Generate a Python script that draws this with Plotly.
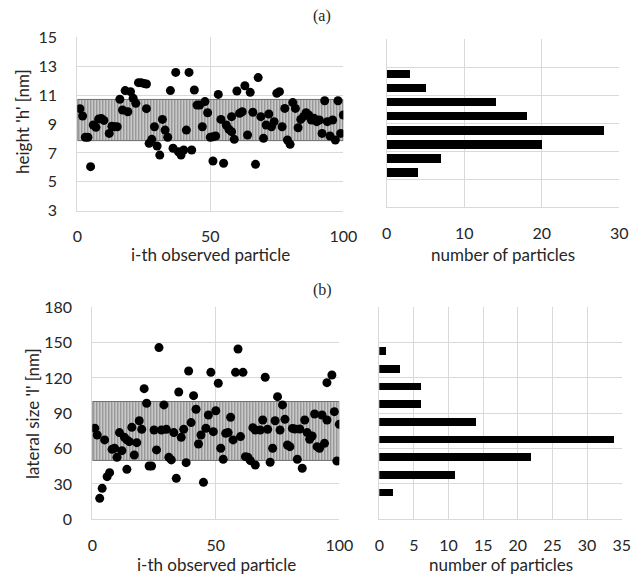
import plotly.graph_objects as go

# ---------------- data ----------------
# (a) height of each observed particle
h_index = [1,2,3,4,5,6,7,8,9,10,12,13,14,15,16,17,18,19,20,21,22,23,24,25,26,26,27,28,29,30,
           31,32,33,34,35,36,37,38,39,40,41,42,43,44,45,46,47,48,49,50,51,51,52,53,54,55,56,57,58,58,
           59,60,61,62,63,64,65,66,67,68,69,70,71,72,73,74,75,76,77,78,79,80,81,82,83,84,85,86,87,88,
           89,90,91,92,93,94,95,96,97,98,99,100]
h_values = [10.06,9.55,8.08,8.08,6.05,8.93,8.77,9.34,9.38,9.25,8.35,8.85,8.81,8.81,10.71,9.97,11.31,9.85,11.24,10.78,
            10.43,11.86,11.86,11.81,11.77,10.06,7.66,7.94,8.81,7.48,6.85,9.32,8.58,8.08,11.31,7.32,12.57,7.08,6.85,7.2,
            8.58,12.57,7.2,11.35,10.31,10.31,8.81,10.55,9.78,8.08,8.12,6.44,8.17,11.05,9.32,6.28,8.93,8.63,8.47,9.51,
            7.94,11.28,9.74,9.85,11.65,8.24,11.19,9.81,6.21,12.21,9.51,8.01,8.93,9.69,8.81,9.16,11.12,11.24,8.81,10.08,
            7.89,7.59,10.48,10.08,8.74,9.32,9.51,9.78,9.62,9.28,9.39,9.16,9.28,8.35,10.61,9.16,8.17,9.28,7.89,10.61,
            8.35,9.62]
h_band = [7.85, 10.7]             # shaded range (low, high) in nm
h_bin_centers = [5.5, 6.5, 7.5, 8.5, 9.5, 10.5, 11.5, 12.5]
h_counts = [4, 7, 20, 28, 18, 14, 5, 3]

# (b) lateral size of each observed particle
l_index = [1,2,3,4,5,6,7,8,9,10,11,12,13,14,14,15,16,17,18,19,20,21,22,23,24,25,26,27,28,29,
           30,31,32,33,34,35,36,37,38,39,40,41,42,43,44,45,46,47,48,49,50,51,52,53,54,55,56,57,58,59,
           60,61,62,63,64,65,66,66,68,69,70,71,72,73,74,75,76,77,78,79,80,81,82,83,84,85,86,87,88,89,
           90,91,92,93,94,95,95,97,98,99,100]
l_values = [77.3,71.6,17.8,26.3,67.4,36.2,39.6,59.4,60.3,52.6,73.6,58.3,69.6,67.4,42.4,65.9,78.1,54.6,65.1,83.7,
            76.4,110.9,98.5,45.3,45.3,75.8,58.9,145.8,75.8,97.1,76.4,52.6,50.4,73.6,34.8,108.1,69.6,76.4,48.1,125.9,
            82.1,105,93.4,63.9,71.6,31.4,77.3,88.6,124.8,74.4,92.2,115.5,60.3,50.9,73,73.6,86.6,67.4,124.8,144.6,
            70.2,124.8,53.2,52.6,49.8,77.8,46.1,75.8,75.8,84.3,120.6,76.4,48.4,60.3,83.7,104.1,75.8,97.1,84.9,63.1,
            61.7,77.2,76.7,50.9,76.7,43.3,84.3,73.6,67.9,70.7,89.4,61.7,60.3,88.6,64.5,84.3,116,122.5,91.4,49.5,
            80.6]
l_band = [50, 100]                # shaded range (low, high) in nm
l_bin_centers = [22.5, 37.5, 52.5, 67.5, 82.5, 97.5, 112.5, 127.5, 142.5]
l_counts = [2, 11, 22, 34, 14, 6, 6, 3, 1]

x_span = [0, 100]

# ---------------- style ----------------
PAGE_W, PAGE_H = 644, 577
OFF = 8                       # default page body margin
W, H = PAGE_W - OFF, PAGE_H - OFF
FONT = "Lato"
GRID = "#d9d9d9"
TXT = "#262626"

def px(x):
    return (x - OFF) / W

def py(y):
    return 1 - (y - OFF) / H

def dom_x(a, b):
    return [px(a), px(b)]

def dom_y(top, bottom):
    return [py(bottom), py(top)]

fig = go.Figure()

def band_trace(band, xa, ya):
    lo, hi = band
    return go.Scatter(
        x=[x_span[0], x_span[1], x_span[1], x_span[0], x_span[0]],
        y=[lo, lo, hi, hi, lo],
        mode="lines", fill="toself",
        line=dict(color="#6e6e6e", width=1),
        fillcolor="rgba(0,0,0,0)",
        fillpattern=dict(shape="|", bgcolor="#d0d0d0", fgcolor="#3a3a3a", size=3, solidity=0.4),
        xaxis=xa, yaxis=ya, hoverinfo="skip", showlegend=False,
    )

fig.add_trace(band_trace(h_band, "x", "y"))
fig.add_trace(go.Scatter(x=h_index, y=h_values, mode="markers",
                         marker=dict(color="black", size=9),
                         xaxis="x", yaxis="y", showlegend=False))
fig.add_trace(go.Bar(y=h_bin_centers, x=h_counts, orientation="h",
                     width=[0.62] * len(h_counts), marker=dict(color="black", line=dict(width=0)),
                     xaxis="x2", yaxis="y2", showlegend=False))

fig.add_trace(band_trace(l_band, "x3", "y3"))
fig.add_trace(go.Scatter(x=l_index, y=l_values, mode="markers",
                         marker=dict(color="black", size=9),
                         xaxis="x3", yaxis="y3", showlegend=False))
fig.add_trace(go.Bar(y=l_bin_centers, x=l_counts, orientation="h",
                     width=[6.4] * len(l_counts), marker=dict(color="black", line=dict(width=0)),
                     xaxis="x4", yaxis="y4", showlegend=False))

tickfont = dict(family=FONT, size=16, color=TXT)

def ax(domain, rng, dtick, anchor, showlabels=True, standoff=10):
    return dict(domain=domain, range=rng, dtick=dtick, tick0=rng[0], anchor=anchor,
                showgrid=True, gridcolor=GRID, gridwidth=1,
                showline=True, linecolor=GRID, linewidth=1, zeroline=False,
                ticks="", showticklabels=showlabels, tickfont=tickfont,
                ticklabelstandoff=standoff, automargin=False, fixedrange=True)

fig.update_layout(
    width=W, height=H,
    margin=dict(l=0, r=0, t=0, b=0, autoexpand=False),
    paper_bgcolor="white", plot_bgcolor="white",
    bargap=0,
    xaxis=ax(dom_x(77.3, 343.3), [0, 100], 50, "y", standoff=11),
    yaxis=ax(dom_y(37.3, 210.7), [3, 15], 2, "x", standoff=16),
    xaxis2=ax(dom_x(386.7, 619.3), [0, 30], 10, "y2", standoff=11),
    yaxis2=ax(dom_y(39, 207.3), [3, 15], 2, "x2", showlabels=False),
    xaxis3=ax(dom_x(92.3, 339.3), [0, 100], 50, "y3", standoff=11),
    yaxis3=ax(dom_y(307.3, 519.3), [0, 180], 30, "x3", standoff=16),
    xaxis4=ax(dom_x(379.3, 621.7), [0, 35], 5, "y4", standoff=11),
    yaxis4=ax(dom_y(307.3, 519.3), [0, 180], 30, "x4", showlabels=False),
)

def label(text, x, y, angle=0, size=17, family=FONT):
    fig.add_annotation(text=text, x=px(x), y=py(y), xref="paper", yref="paper",
                       showarrow=False, textangle=angle,
                       font=dict(family=family, size=size, color=TXT),
                       xanchor="center", yanchor="middle")

label("(a)", 322, 16, size=16, family="Liberation Serif")
label("(b)", 322, 290, size=16, family="Liberation Serif")
label("height 'h' [nm]", 22, 122, angle=-90)
label("i-th observed particle", 210, 254)
label("number of particles", 503, 254)
label("lateral size 'l' [nm]", 32, 414, angle=-90)
label("i-th observed particle", 216, 564)
label("number of particles", 501, 564)

fig.write_html("out.html")
